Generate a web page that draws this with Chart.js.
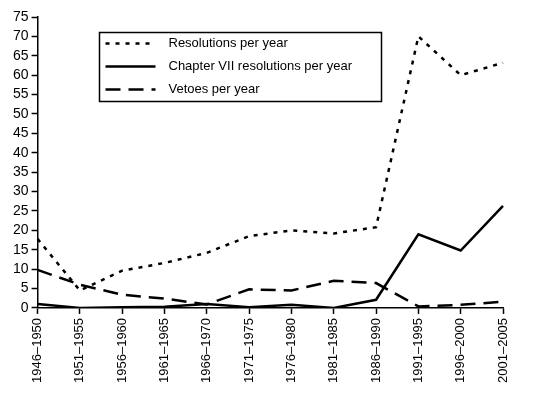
<!DOCTYPE html>
<html>
<head>
<meta charset="utf-8">
<script src="https://cdn.jsdelivr.net/npm/chart.js@4"></script>
<style>
  html, body { margin: 0; padding: 0; background: #fff; }
  #wrap { width: 556px; height: 393px; }
</style>
</head>
<body>
<div id="wrap"><canvas id="unChart" width="556" height="393"></canvas></div>
<script>
// Periods on the x axis
const periods = ['1946–1950', '1951–1955', '1956–1960', '1961–1965', '1966–1970', '1971–1975',
                 '1976–1980', '1981–1985', '1986–1990', '1991–1995', '1996–2000', '2001–2005'];

// Series
const resolutions = [17.8, 4.5, 9.6, 11.6, 14.2, 18.5, 20, 19.2, 20.8, 70, 60, 63.2];
const chapterSeven = [1, 0, 0.2, 0.3, 1, 0.2, 0.8, 0, 2.1, 19, 14.8, 26.3];
const vetoes = [9.8, 6, 3.4, 2.4, 0.9, 4.8, 4.5, 7, 6.4, 0.4, 0.8, 1.6];

const yTicks = [0, 5, 10, 15, 20, 25, 30, 35, 40, 45, 50, 55, 60, 65, 70, 75];

const FONT = '"Liberation Sans", Arial, Helvetica, sans-serif';

// legend box drawn inside the plot, like the original
const boxLegend = {
    id: 'boxLegend',
    afterDraw(chart) {
        const c = chart.ctx;
        const x0 = 99.5, y0 = 32.5, w = 282, h = 69;
        c.save();
        c.fillStyle = '#fff';
        c.fillRect(x0, y0, w, h);
        c.strokeStyle = '#000';
        c.lineWidth = 1.5;
        c.strokeRect(x0, y0, w, h);
        c.font = '13px ' + FONT;
        c.textBaseline = 'middle';
        chart.data.datasets.forEach((ds, i) => {
            const y = y0 + 11 + i * 23;
            c.beginPath();
            c.setLineDash(ds.borderDash || []);
            c.lineWidth = ds.borderWidth;
            c.strokeStyle = '#000';
            c.moveTo(x0 + 6, y);
            c.lineTo(x0 + 56, y);
            c.stroke();
            c.setLineDash([]);
            c.fillStyle = '#000';
            c.fillText(ds.label, x0 + 69, y);
        });
        c.restore();
    }
};

const ctx = document.getElementById('unChart').getContext('2d');
const unChart = new Chart(ctx, {
    type: 'line',
    data: {
        labels: periods,
        datasets: [{
            label: 'Resolutions per year',
            data: resolutions,
            borderColor: '#000',
            borderWidth: 2.5,
            borderDash: [4, 6],
            pointRadius: 0,
            tension: 0
        }, {
            label: 'Chapter VII resolutions per year',
            data: chapterSeven,
            borderColor: '#000',
            borderWidth: 2.5,
            pointRadius: 0,
            tension: 0
        }, {
            label: 'Vetoes per year',
            data: vetoes,
            borderColor: '#000',
            borderWidth: 2.5,
            borderDash: [15, 8],
            pointRadius: 0,
            tension: 0
        }]
    },
    options: {
        responsive: false,
        animation: false,
        layout: {
            padding: { top: 17, right: 53, bottom: 6, left: 10 }
        },
        plugins: {
            legend: { display: false },
            tooltip: { enabled: false }
        },
        scales: {
            x: {
                offset: false,
                grid: {
                    drawOnChartArea: false,
                    drawTicks: true,
                    tickLength: 6,
                    tickWidth: 1.5,
                    color: '#000'
                },
                border: { display: true, color: '#000', width: 1.5 },
                ticks: {
                    autoSkip: false,
                    maxRotation: 90,
                    minRotation: 90,
                    color: '#000',
                    padding: 4,
                    font: { family: FONT, size: 13 }
                }
            },
            y: {
                min: 0,
                max: 75,
                afterBuildTicks(axis) {
                    axis.ticks = yTicks.map(v => ({ value: v }));
                },
                grid: {
                    drawOnChartArea: false,
                    drawTicks: true,
                    tickLength: 6,
                    tickWidth: 1.5,
                    color: '#000'
                },
                border: { display: true, color: '#000', width: 1.5 },
                ticks: {
                    autoSkip: false,
                    color: '#000',
                    padding: 3,
                    font: { family: FONT, size: 14 }
                }
            }
        }
    },
    plugins: [boxLegend]
});
</script>
</body>
</html>
